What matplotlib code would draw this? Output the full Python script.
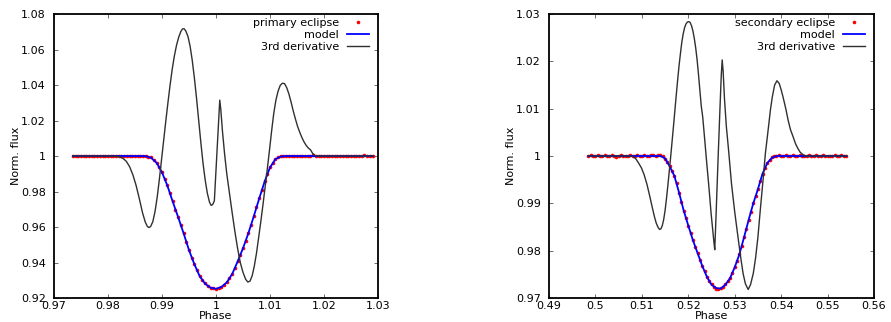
import numpy as np
import matplotlib.pyplot as plt
from matplotlib.ticker import FixedLocator, FuncFormatter

# ---- primary eclipse ----
p_obs_start, p_obs_step = 0.9735, 0.0005
p_obs_flux = [
    # out of eclipse, left
    1.0001, 1.0000, 0.9999, 1.0002, 1.0000, 0.9999, 1.0001, 1.0000, 1.0000, 1.0002,
    0.9999, 1.0001, 1.0000, 1.0001, 0.9999, 1.0000, 1.0002, 1.0000, 0.9999, 1.0001,
    1.0000, 1.0002, 1.0001, 1.0000, 0.9999, 1.0001,
    # eclipse
    1.0001, 1.0000, 0.9997, 0.9992, 0.9980, 0.9963, 0.9938, 0.9910, 0.9872, 0.9835,
    0.9790, 0.9745, 0.9698, 0.9657, 0.9610, 0.9568, 0.9518, 0.9472, 0.9428, 0.9392,
    0.9355, 0.9325, 0.9300, 0.9282, 0.9268, 0.9257, 0.9254, 0.9250, 0.9254, 0.9263,
    0.9273, 0.9290, 0.9310, 0.9337, 0.9368, 0.9407, 0.9442, 0.9483, 0.9522, 0.9567,
    0.9612, 0.9662, 0.9710, 0.9762, 0.9808, 0.9857, 0.9897, 0.9937, 0.9962, 0.9984,
    0.9993, 0.9998, 1.0000, 1.0001, 1.0000,
    # out of eclipse, right
    1.0001, 0.9999, 1.0000, 1.0002, 1.0000, 1.0001, 0.9999, 1.0000, 1.0003, 1.0000,
    1.0001, 0.9999, 1.0000, 1.0002, 1.0000, 0.9999, 1.0001, 1.0000, 1.0001, 1.0000,
    0.9999, 1.0002, 1.0000, 1.0001, 1.0000, 0.9999, 1.0001, 1.0003, 1.0000, 1.0001,
    1.0000,
]
p_model_phase = [0.9735, 0.986, 0.987, 0.988, 0.989, 0.990, 0.991, 0.992, 0.993, 0.994,
                 0.995, 0.996, 0.997, 0.998, 0.999, 1.000, 1.001, 1.002, 1.003, 1.004,
                 1.005, 1.006, 1.007, 1.008, 1.009, 1.010, 1.011, 1.012, 1.013, 1.029]
p_model_flux = [1.0000, 1.0000, 0.9999, 0.9990, 0.9962, 0.9908, 0.9833, 0.9742, 0.9655, 0.9565,
                0.9470, 0.9390, 0.9322, 0.9280, 0.9258, 0.9252, 0.9262, 0.9288, 0.9335, 0.9405,
                0.9480, 0.9565, 0.9660, 0.9760, 0.9855, 0.9935, 0.9982, 0.9997, 1.0000, 1.0000]
p_der_phase = [0.9735, 0.9800, 0.9815, 0.9822, 0.9828, 0.9834, 0.9840, 0.9846, 0.9852, 0.9858,
               0.9864, 0.9869, 0.9873, 0.9876, 0.9879, 0.9883, 0.9887, 0.9891, 0.9895, 0.9899,
               0.9903, 0.9907, 0.9911, 0.9915, 0.9919, 0.9923, 0.9927, 0.9931, 0.9935, 0.9938,
               0.9941, 0.9944, 0.9948, 0.9952, 0.9956, 0.9960, 0.9964, 0.9968, 0.9972, 0.9976,
               0.9980, 0.9984, 0.9988, 0.9991, 0.9994, 0.9997, 1.0007, 1.0009, 1.0012, 1.0016,
               1.0020, 1.0025, 1.0030, 1.0035, 1.0040, 1.0045, 1.0050, 1.0055, 1.0059, 1.0063,
               1.0067, 1.0071, 1.0075, 1.0079, 1.0083, 1.0087, 1.0091, 1.0095, 1.0099, 1.0103,
               1.0107, 1.0111, 1.0115, 1.0119, 1.0123, 1.0127, 1.0131, 1.0135, 1.0139, 1.0143,
               1.0147, 1.0151, 1.0155, 1.0159, 1.0163, 1.0167, 1.0171, 1.0175, 1.0179, 1.0183,
               1.0187, 1.0290]
p_der_flux = [1.0000, 1.0000, 0.9999, 0.9995, 0.9986, 0.9970, 0.9940, 0.9895, 0.9835, 0.9760,
              0.9680, 0.9628, 0.9603, 0.9597, 0.9603, 0.9630, 0.9685, 0.9765, 0.9865, 0.9975,
              1.0085, 1.0195, 1.0300, 1.0400, 1.0490, 1.0565, 1.0625, 1.0670, 1.0702, 1.0716,
              1.0717, 1.0705, 1.0675, 1.0620, 1.0540, 1.0440, 1.0325, 1.0200, 1.0075, 0.9960,
              0.9865, 0.9790, 0.9740, 0.9722, 0.9727, 0.9748, 1.0315, 1.0260, 1.0140, 1.0010,
              0.9900, 0.9790, 0.9680, 0.9575, 0.9480, 0.9400, 0.9345, 0.9305, 0.9290, 0.9295,
              0.9325, 0.9380, 0.9452, 0.9540, 0.9630, 0.9725, 0.9825, 0.9925, 1.0030, 1.0140,
              1.0240, 1.0315, 1.0365, 1.0398, 1.0410, 1.0408, 1.0385, 1.0350, 1.0305, 1.0255,
              1.0210, 1.0168, 1.0135, 1.0105, 1.0080, 1.0060, 1.0045, 1.0035, 1.0015, 1.0004,
              1.0000, 1.0000]

# ---- secondary eclipse ----
s_obs_start, s_obs_step = 0.4985, 0.0005
s_obs_flux = [
    # out of eclipse, left
    1.0000, 1.0002, 1.0001, 0.9999, 1.0003, 1.0001, 1.0000, 1.0002, 0.9999, 1.0001,
    1.0003, 1.0000, 0.9998, 1.0001, 1.0002, 1.0000, 1.0001, 0.9999, 1.0002, 1.0001,
    1.0000, 1.0003, 1.0001, 0.9999, 1.0002, 1.0001, 1.0000, 1.0003, 1.0002, 1.0001,
    1.0003,
    # eclipse
    1.0002, 0.9999, 0.9994, 0.9987, 0.9979, 0.9968, 0.9957, 0.9942, 0.9922, 0.9903,
    0.9884, 0.9868, 0.9852, 0.9838, 0.9822, 0.9808, 0.9796, 0.9781, 0.9768, 0.9757,
    0.9745, 0.9735, 0.9729, 0.9724, 0.9720, 0.9719, 0.9721, 0.9723, 0.9729, 0.9735,
    0.9743, 0.9752, 0.9765, 0.9778, 0.9793, 0.9810, 0.9828, 0.9846, 0.9865, 0.9882,
    0.9901, 0.9915, 0.9931, 0.9948, 0.9962, 0.9975, 0.9986, 0.9992, 0.9997, 1.0001,
    1.0000,
    # out of eclipse, right
    1.0002, 1.0001, 1.0000, 1.0003, 1.0001, 0.9999, 1.0002, 1.0000, 1.0001, 1.0003,
    1.0000, 1.0001, 0.9999, 1.0002, 1.0001, 1.0000, 1.0003, 1.0001, 1.0000, 1.0002,
    1.0001, 0.9999, 1.0001, 1.0000, 1.0002, 1.0001, 1.0000, 1.0003, 1.0001, 1.0000,
]
s_model_phase = [0.4985, 0.514, 0.515, 0.516, 0.517, 0.518, 0.519, 0.520, 0.521, 0.522,
                 0.523, 0.524, 0.525, 0.526, 0.527, 0.528, 0.529, 0.530, 0.531, 0.532,
                 0.533, 0.534, 0.535, 0.536, 0.537, 0.538, 0.539, 0.554]
s_model_flux = [1.0000, 1.0000, 0.9995, 0.9978, 0.9958, 0.9923, 0.9885, 0.9853, 0.9822, 0.9795,
                0.9768, 0.9745, 0.9728, 0.9721, 0.9720, 0.9728, 0.9742, 0.9765, 0.9792, 0.9828,
                0.9865, 0.9900, 0.9930, 0.9963, 0.9985, 0.9996, 1.0000, 1.0000]
s_der_phase = [0.4985, 0.5075, 0.5081, 0.5087, 0.5093, 0.5099, 0.5105, 0.5111, 0.5117, 0.5122,
               0.5127, 0.5131, 0.5135, 0.5138, 0.5141, 0.5144, 0.5147, 0.5150, 0.5153, 0.5156,
               0.5159, 0.5162, 0.5165, 0.5168, 0.5171, 0.5174, 0.5177, 0.5180, 0.5183, 0.5186,
               0.5189, 0.5192, 0.5195, 0.5198, 0.5201, 0.5204, 0.5207, 0.5210, 0.5213, 0.5216,
               0.5219, 0.5222, 0.5225, 0.5228, 0.5231, 0.5234, 0.5237, 0.5240, 0.5243, 0.5246,
               0.5249, 0.5252, 0.5255, 0.5257, 0.5260, 0.5264, 0.5268, 0.5271, 0.5273, 0.5275,
               0.5278, 0.5282, 0.5287, 0.5293, 0.5300, 0.5307, 0.5313, 0.5318, 0.5323, 0.5329,
               0.5334, 0.5340, 0.5345, 0.5350, 0.5355, 0.5361, 0.5366, 0.5372, 0.5377, 0.5381,
               0.5386, 0.5391, 0.5396, 0.5400, 0.5404, 0.5410, 0.5415, 0.5420, 0.5426, 0.5431,
               0.5436, 0.5441, 0.5447, 0.5453, 0.5542]
s_der_flux = [1.0000, 1.0000, 0.9999, 0.9994, 0.9985, 0.9975, 0.9960, 0.9940, 0.9915, 0.9893,
              0.9872, 0.9858, 0.9849, 0.9845, 0.9846, 0.9853, 0.9866, 0.9885, 0.9910, 0.9938,
              0.9968, 0.9998, 1.0030, 1.0062, 1.0095, 1.0128, 1.0160, 1.0190, 1.0216, 1.0240,
              1.0258, 1.0271, 1.0279, 1.0283, 1.0284, 1.0282, 1.0275, 1.0264, 1.0248, 1.0228,
              1.0203, 1.0172, 1.0138, 1.0105, 1.0083, 1.0050, 1.0016, 0.9982, 0.9950, 0.9916,
              0.9880, 0.9850, 0.9820, 0.9802, 0.9880, 0.9990, 1.0095, 1.0170, 1.0203, 1.0180,
              1.0120, 1.0062, 1.0010, 0.9942, 0.9882, 0.9829, 0.9785, 0.9752, 0.9730, 0.9718,
              0.9728, 0.9752, 0.9785, 0.9829, 0.9885, 0.9949, 1.0005, 1.0055, 1.0098, 1.0125,
              1.0150, 1.0159, 1.0153, 1.0140, 1.0125, 1.0100, 1.0076, 1.0056, 1.0040, 1.0026,
              1.0016, 1.0008, 1.0003, 1.0000, 1.0000]

p_xticks = [0.97, 0.98, 0.99, 1.00, 1.01, 1.02, 1.03]
p_yticks = [0.92, 0.94, 0.96, 0.98, 1.00, 1.02, 1.04, 1.06, 1.08]
s_xticks = [0.49, 0.50, 0.51, 0.52, 0.53, 0.54, 0.55, 0.56]
s_yticks = [0.97, 0.98, 0.99, 1.00, 1.01, 1.02, 1.03]

plt.rcParams['font.family'] = 'DejaVu Sans'
plt.rcParams['font.size'] = 8

fig = plt.figure(figsize=(8.91, 3.22), dpi=100)
ax1 = fig.add_axes([0.0606, 0.0745, 0.3636, 0.882])
ax2 = fig.add_axes([0.6162, 0.0745, 0.3647, 0.882])

gfmt = FuncFormatter(lambda v, pos: '%g' % round(v, 4))


def panel(ax, start, step, obs, mph, mfl, dph, dfl, label, xt, yt):
    ph = start + step * np.arange(len(obs))
    ax.plot(ph, obs, 'o', color='red', ms=2.6, mew=0, label=label, zorder=2)
    ax.plot(mph, mfl, '-', color='blue', lw=1.3, label='model', zorder=3)
    ax.plot(dph, dfl, '-', color='#303030', lw=1.0, label='3rd derivative', zorder=4)
    ax.set_xlim(xt[0], xt[-1])
    ax.set_ylim(yt[0], yt[-1])
    ax.xaxis.set_major_locator(FixedLocator(xt))
    ax.yaxis.set_major_locator(FixedLocator(yt))
    ax.xaxis.set_major_formatter(gfmt)
    ax.yaxis.set_major_formatter(gfmt)
    ax.tick_params(direction='in', top=True, right=True, length=3, width=0.6,
                   color='#555555', labelsize=8)
    ax.tick_params(axis='x', pad=2)
    ax.tick_params(axis='y', pad=6)
    for s in ax.spines.values():
        s.set_linewidth(1.3)
    ax.set_xlabel('Phase', labelpad=0)
    ax.set_ylabel('Norm. flux', labelpad=0)
    ax.legend(loc='upper right', bbox_to_anchor=(0.973, 0.985), frameon=False,
              markerfirst=False, handlelength=2.0, handletextpad=0.7, labelspacing=0.15,
              borderaxespad=0.0, borderpad=0.0, fontsize=8, numpoints=1)


panel(ax1, p_obs_start, p_obs_step, p_obs_flux, p_model_phase, p_model_flux,
      p_der_phase, p_der_flux, 'primary eclipse', p_xticks, p_yticks)
panel(ax2, s_obs_start, s_obs_step, s_obs_flux, s_model_phase, s_model_flux,
      s_der_phase, s_der_flux, 'secondary eclipse', s_xticks, s_yticks)

fig.savefig('out.png', dpi=100)
